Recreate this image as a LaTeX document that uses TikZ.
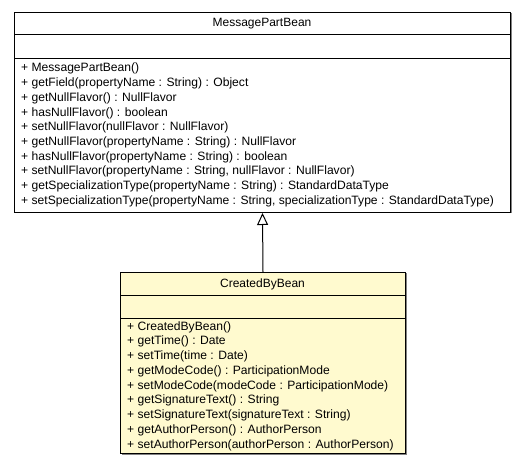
\documentclass[tikz,border=0pt]{standalone}
\usepackage{fontspec}
\setmainfont{Liberation Sans}
\usetikzlibrary{arrows.meta}
\definecolor{beanfill}{RGB}{255,250,207}
\definecolor{shadowgray}{RGB}{130,130,130}
\tikzset{
  classbox/.style={draw=black, line width=1pt, inner sep=0pt, anchor=north west},
  sepline/.style={draw=black, line width=1pt},
  title/.style={font=\fontsize{12}{14}\selectfont, inner sep=0pt},
  members/.style={font=\fontsize{12.1}{14.72}\selectfont, align=left, inner sep=0pt, anchor=west},
  inherit/.style={draw=black, line width=1pt, -{Triangle[open, length=12pt, width=11pt, fill=white]}},
}
\begin{document}
\begin{tikzpicture}[x=1pt,y=1pt]
\useasboundingbox (0,0) rectangle (525,469);
% shadows
\fill[shadowgray] (15.5,255.5) rectangle (511.5,455.5);
\fill[shadowgray] (121.5,14.5) rectangle (406.5,195.5);
% MessagePartBean
\node[classbox, fill=white, minimum width=496pt, minimum height=200pt] (mpb) at (14,457) {};
\draw[sepline] (14,434) -- (510,434);
\draw[sepline] (14,410.5) -- (510,410.5);
\node[title] (mpbtitle) at (262,445.5) {MessagePartBean};
\node[members] (mpbops) at (21,334) {+ MessagePartBean()\\
+ getField(propertyName : String) : Object\\
+ getNullFlavor() : NullFlavor\\
+ hasNullFlavor() : boolean\\
+ setNullFlavor(nullFlavor : NullFlavor)\\
+ getNullFlavor(propertyName : String) : NullFlavor\\
+ hasNullFlavor(propertyName : String) : boolean\\
+ setNullFlavor(propertyName : String, nullFlavor : NullFlavor)\\
+ getSpecializationType(propertyName : String) : StandardDataType\\
+ setSpecializationType(propertyName : String, specializationType : StandardDataType)};
% CreatedByBean
\node[classbox, fill=beanfill, minimum width=285pt, minimum height=181pt] (cbb) at (120,197) {};
\draw[sepline] (120,173) -- (405,173);
\draw[sepline] (120,150) -- (405,150);
\node[title] (cbbtitle) at (262.5,185) {CreatedByBean};
\node[members] (cbbops) at (127,83) {+ CreatedByBean()\\
+ getTime() : Date\\
+ setTime(time : Date)\\
+ getModeCode() : ParticipationMode\\
+ setModeCode(modeCode : ParticipationMode)\\
+ getSignatureText() : String\\
+ setSignatureText(signatureText : String)\\
+ getAuthorPerson() : AuthorPerson\\
+ setAuthorPerson(authorPerson : AuthorPerson)};
% inheritance
\draw[inherit] (cbb.north) -- (mpb.south);
\end{tikzpicture}
\end{document}
